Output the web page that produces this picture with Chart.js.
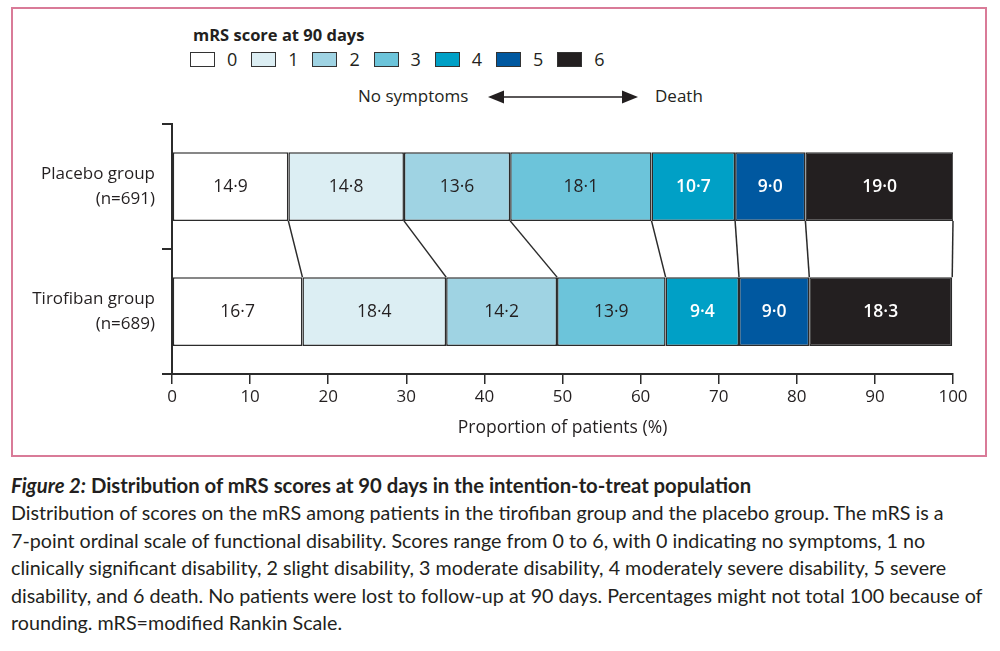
<!DOCTYPE html>
<html>
<head>
<meta charset="utf-8">
<script src="https://cdn.jsdelivr.net/npm/chart.js@4"></script>
<style>
  body { margin: 0; background: #fff; width: 1000px; height: 651px; position: relative; overflow: hidden; font-family: "Open Sans", sans-serif; color: #231f20; }
  #frame { position: absolute; left: 11px; top: 7px; width: 972px; height: 446px; border: 2px solid #d97b98; }
  #chartBox { position: absolute; left: 0; top: 0; width: 1000px; height: 460px; }
  #legendTitle { position: absolute; left: 193px; top: 23px; font-size: 16.5px; font-weight: 700; }
  .lg-item { position: absolute; top: 52px; height: 18px; }
  .lg-box { position: absolute; left: 0; top: 0; width: 23px; height: 13px; border: 1.5px solid #333; }
  .lg-text { position: absolute; left: 37px; top: -5px; font-size: 18px; }
  .arrow-text { position: absolute; top: 84px; font-size: 17px; }
  #caption { position: absolute; left: 11px; top: 471px; font-family: Lato, sans-serif; white-space: nowrap; }
  #caption .title { font-size: 20.3px; font-weight: 700; line-height: 28px; }
  #caption .body { font-size: 19.7px; line-height: 27.6px; }
</style>
</head>
<body>
<div id="frame"></div>
<div id="legendTitle">mRS score at 90 days</div>
<div id="legend"></div>
<div class="arrow-text" style="left:358px">No symptoms</div>
<div class="arrow-text" style="left:655px">Death</div>
<div id="chartBox"><canvas id="chart" width="1000" height="460"></canvas></div>
<div id="caption">
  <div class="title"><i>Figure 2:</i> Distribution of mRS scores at 90 days in the intention-to-treat population</div>
  <div class="body">
    Distribution of scores on the mRS among patients in the tirofiban group and the placebo group. The mRS is a<br>
    7-point ordinal scale of functional disability. Scores range from 0 to 6, with 0 indicating no symptoms, 1 no<br>
    clinically significant disability, 2 slight disability, 3 moderate disability, 4 moderately severe disability, 5 severe<br>
    disability, and 6 death. No patients were lost to follow-up at 90 days. Percentages might not total 100 because of<br>
    rounding. mRS=modified Rankin Scale.
  </div>
</div>
<script>
// groups shown on the y axis
const groups = [["Placebo group", "(n=691)"], ["Tirofiban group", "(n=689)"]];
// mRS scores 0..6
const scores = ["0", "1", "2", "3", "4", "5", "6"];
const placebo = [14.9, 14.8, 13.6, 18.1, 10.7, 9.0, 19.0];
const tirofiban = [16.7, 18.4, 14.2, 13.9, 9.4, 9.0, 18.3];
const colors = ["#ffffff", "#dceef3", "#9fd3e3", "#6cc4da", "#00a0c6", "#0058a0", "#231f20"];
const xTicks = [0, 10, 20, 30, 40, 50, 60, 70, 80, 90, 100];

// legend built from the arrays
const legend = document.getElementById("legend");
scores.forEach((s, i) => {
  const item = document.createElement("div");
  item.className = "lg-item";
  item.style.left = (190 + i * 61.2) + "px";
  item.innerHTML = `<div class="lg-box" style="background:${colors[i]}"></div><div class="lg-text">${s}</div>`;
  legend.appendChild(item);
});

function fmt(v) {
  return v.toFixed(1).replace(".", "\u00b7");
}

// value labels inside the bars
const barLabels = {
  id: "barLabels",
  afterDatasetsDraw(chart) {
    const ctx = chart.ctx;
    ctx.save();
    ctx.textAlign = "center";
    ctx.textBaseline = "middle";
    chart.data.datasets.forEach((ds, i) => {
      const meta = chart.getDatasetMeta(i);
      meta.data.forEach((el, j) => {
        const light = i >= 4;
        ctx.fillStyle = light ? "#ffffff" : "#231f20";
        ctx.font = (light ? "600 " : "") + "17.5px 'Open Sans'";
        ctx.fillText(fmt(ds.data[j]), (el.x + el.base) / 2, el.y + 1);
      });
    });
    ctx.restore();
  }
};

// lines joining the category boundaries of the two bars
const connectors = {
  id: "connectors",
  afterDatasetsDraw(chart) {
    const ctx = chart.ctx;
    const xs = chart.scales.x;
    const first = chart.getDatasetMeta(0).data;
    const yTop = first[0].y + first[0].height / 2;
    const yBot = first[1].y - first[1].height / 2;
    let cp = 0, ct = 0;
    ctx.save();
    ctx.strokeStyle = "#2b2b2b";
    ctx.lineWidth = 1.5;
    for (let i = 0; i < scores.length; i++) {
      cp += placebo[i];
      ct += tirofiban[i];
      ctx.beginPath();
      ctx.moveTo(xs.getPixelForValue(Math.min(cp, 100)), yTop);
      ctx.lineTo(xs.getPixelForValue(Math.min(ct, 100)), yBot);
      ctx.stroke();
    }
    ctx.restore();
  }
};

// double arrow between "No symptoms" and "Death"
const arrow = {
  id: "arrow",
  afterDraw(chart) {
    const ctx = chart.ctx;
    const y = 97, x1 = 488, x2 = 638;
    ctx.save();
    ctx.strokeStyle = "#231f20";
    ctx.fillStyle = "#231f20";
    ctx.lineWidth = 1.5;
    ctx.beginPath();
    ctx.moveTo(x1 + 10, y);
    ctx.lineTo(x2 - 10, y);
    ctx.stroke();
    ctx.beginPath();
    ctx.moveTo(x1, y); ctx.lineTo(x1 + 16, y - 6.5); ctx.lineTo(x1 + 16, y + 6.5); ctx.closePath();
    ctx.fill();
    ctx.beginPath();
    ctx.moveTo(x2, y); ctx.lineTo(x2 - 16, y - 6.5); ctx.lineTo(x2 - 16, y + 6.5); ctx.closePath();
    ctx.fill();
    ctx.restore();
  }
};

const datasets = scores.map((s, i) => ({
  label: s,
  data: [placebo[i], tirofiban[i]],
  backgroundColor: colors[i],
  borderColor: "#2b2b2b",
  borderWidth: 1.5,
  borderSkipped: false,
  barPercentage: 0.55,
  categoryPercentage: 1
}));

new Chart(document.getElementById("chart"), {
  type: "bar",
  data: { labels: groups, datasets },
  plugins: [barLabels, connectors, arrow],
  options: {
    indexAxis: "y",
    responsive: false,
    animation: false,
    devicePixelRatio: 1,
    layout: { padding: { left: 0, top: 124, right: 47, bottom: 16 } },
    plugins: { legend: { display: false }, tooltip: { enabled: false } },
    scales: {
      x: {
        stacked: true,
        min: 0,
        max: 100,
        afterBuildTicks: (s) => { s.ticks = xTicks.map(v => ({ value: v })); },
        afterFit: (s) => { s.height = 70; },
        border: { display: true, color: "#2b2b2b", width: 2 },
        grid: { drawOnChartArea: false, drawTicks: true, tickLength: 10, color: "#2b2b2b", lineWidth: 1.5 },
        ticks: { color: "#231f20", padding: 3, font: { family: "Open Sans", size: 17 } },
        title: {
          display: true,
          text: "Proportion of patients (%)",
          color: "#231f20",
          font: { family: "Open Sans", size: 17.5 },
          padding: { top: 0, bottom: 5 }
        }
      },
      y: {
        stacked: true,
        afterFit: (s) => { s.width = 172; },
        border: { display: true, color: "#2b2b2b", width: 2 },
        grid: { offset: true, drawOnChartArea: false, drawTicks: true, tickLength: 10, color: "#2b2b2b", lineWidth: 2 },
        ticks: { color: "#231f20", padding: 7, font: { family: "Open Sans", size: 17, lineHeight: 1.45 } }
      }
    }
  }
});
</script>
</body>
</html>
